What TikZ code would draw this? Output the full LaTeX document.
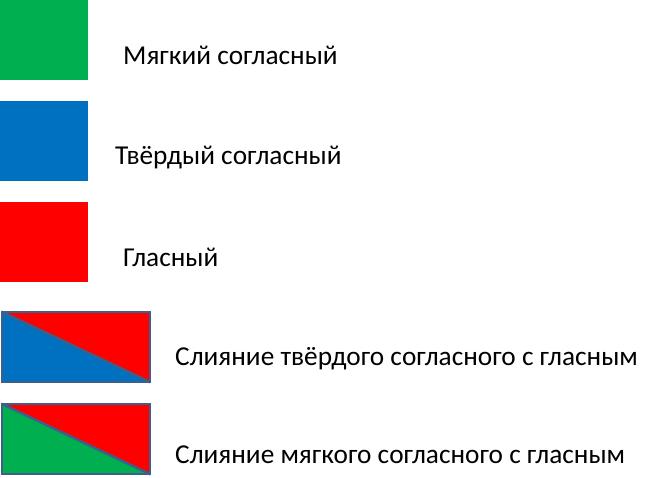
\documentclass[tikz,border=0pt]{standalone}
\usepackage{fontspec}
\setmainfont{Carlito}
\usetikzlibrary{positioning}
\definecolor{softc}{HTML}{00B050}
\definecolor{hardc}{HTML}{0070C0}
\definecolor{vowc}{HTML}{FF0000}
\definecolor{edgec}{HTML}{3C5F8C}
\tikzset{
  square/.style={rectangle, inner sep=0pt, minimum width=88pt, minimum height=80pt},
  wide/.style={rectangle, inner sep=0pt, minimum width=148pt, minimum height=70pt},
  legend/.style={anchor=base west, inner sep=0pt, font=\fontsize{27.3}{33}\selectfont},
  frame/.style={draw=edgec, line width=2.5pt}
}
\begin{document}
\begin{tikzpicture}[x=1pt, y=-1pt]
        \useasboundingbox (0,0) rectangle (659,478);
        \node [square, fill=softc] (soft) at (44,40) {};
        \node [square, fill=hardc] (hard) at (44,141.5) {};
        \node [square, fill=vowc] (vow) at (44,242.5) {};
        \node [wide] (hardvow) at (76,347) {};
        \node [wide] (softvow) at (76,439) {};
        % split boxes
        \fill [hardc] (hardvow.north west) -- (hardvow.south east) -- (hardvow.south west) -- cycle;
        \fill [vowc] (hardvow.north west) -- (hardvow.north east) -- (hardvow.south east) -- cycle;
        \fill [softc] (softvow.north west) -- (softvow.south east) -- (softvow.south west) -- cycle;
        \fill [vowc] (softvow.north west) -- (softvow.north east) -- (softvow.south east) -- cycle;
        \draw [frame] (hardvow.north west) -- (hardvow.south east);
        \draw [frame] (softvow.north west) -- (softvow.south east);
        \draw [frame] (hardvow.north west) rectangle (hardvow.south east);
        \draw [frame] (softvow.north west) rectangle (softvow.south east);
        % labels
        \node [legend] (softtxt) at (123,65) {Мягкий согласный};
        \node [legend] (hardtxt) at (115,165) {Твёрдый согласный};
        \node [legend] (vowtxt) at (123,267) {Гласный};
        \node [legend] (hardvowtxt) at (175,366) {Слияние твёрдого согласного с гласным};
        \node [legend] (softvowtxt) at (175,463) {Слияние мягкого согласного с гласным};
    \end{tikzpicture}
\end{document}
